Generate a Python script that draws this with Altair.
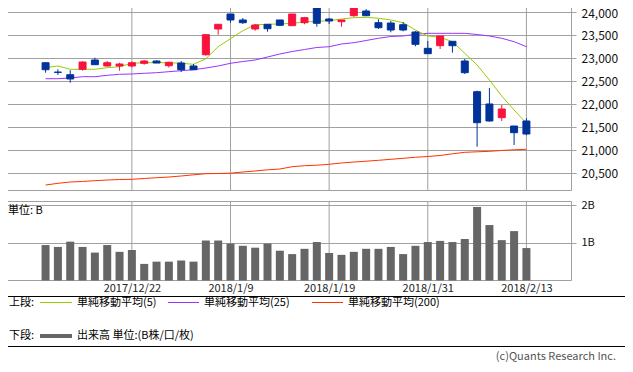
import altair as alt
import pandas as pd

FONT = "Noto Sans CJK JP"

dates = ["2017/12/13", "2017/12/14", "2017/12/15", "2017/12/18", "2017/12/19",
         "2017/12/20", "2017/12/21", "2017/12/22", "2017/12/25", "2017/12/26",
         "2017/12/27", "2017/12/28", "2017/12/29", "2018/1/4", "2018/1/5",
         "2018/1/9", "2018/1/10", "2018/1/11", "2018/1/12", "2018/1/15",
         "2018/1/16", "2018/1/17", "2018/1/18", "2018/1/19", "2018/1/22",
         "2018/1/23", "2018/1/24", "2018/1/25", "2018/1/26", "2018/1/29",
         "2018/1/30", "2018/1/31", "2018/2/1", "2018/2/2", "2018/2/5",
         "2018/2/6", "2018/2/7", "2018/2/8", "2018/2/9", "2018/2/13"]

opens = [22904, 22700, 22643, 22761, 22963, 22833, 22833, 22833, 22891, 22941,
         22839, 22898, 22833, 23078, 23637, 23963, 23833, 23637, 23739, 23833,
         23709, 23774, 24100, 23854, 23796, 23926, 24028, 23774, 23767, 23730,
         23572, 23217, 23274, 23369, 22941, 22274, 22007, 21709, 21528, 21637]
highs = [22904, 22761, 22740, 22935, 23013, 22941, 22904, 22930, 22963, 22957,
         22925, 22941, 22876, 23513, 23739, 23963, 23876, 23746, 23739, 23833,
         23963, 23900, 24100, 23876, 23833, 24137, 24070, 23848, 23811, 23789,
         23590, 23376, 23485, 23369, 22985, 22296, 22354, 21985, 21528, 21696]
lows = [22687, 22637, 22470, 22730, 22855, 22817, 22730, 22800, 22861, 22895,
        22800, 22702, 22745, 23056, 23513, 23774, 23746, 23600, 23578, 23700,
        23700, 23740, 23687, 23746, 23687, 23904, 23920, 23637, 23565, 23587,
        23261, 23100, 23202, 23122, 22659, 21078, 21622, 21637, 21115, 21326]
closes = [22752, 22694, 22550, 22919, 22861, 22904, 22876, 22904, 22941, 22898,
          22913, 22752, 22752, 23513, 23739, 23833, 23774, 23724, 23643, 23717,
          23963, 23883, 23761, 23811, 23833, 24137, 23926, 23665, 23615, 23615,
          23304, 23100, 23485, 23274, 22687, 21600, 21637, 21898, 21383, 21354]

ma5 = [22796, 22833, 22761, 22761, 22761, 22796, 22817, 22891, 22904, 22904,
       22904, 22891, 22870, 22990, 23252, 23426, 23600, 23730, 23739, 23746,
       23761, 23789, 23804, 23817, 23854, 23883, 23891, 23870, 23833, 23774,
       23615, 23485, 23457, 23361, 23109, 22854, 22528, 22180, 21876, 21587]
ma25 = [22556, 22556, 22572, 22600, 22600, 22630, 22652, 22659, 22674, 22687,
        22709, 22730, 22752, 22789, 22833, 22891, 22930, 22963, 23028, 23093,
        23148, 23191, 23235, 23252, 23311, 23339, 23387, 23435, 23474, 23485,
        23522, 23543, 23543, 23543, 23543, 23517, 23485, 23435, 23361, 23252]
ma200 = [20245, 20282, 20311, 20322, 20339, 20354, 20365, 20369, 20387, 20404,
         20419, 20441, 20467, 20491, 20496, 20502, 20528, 20550, 20576, 20593,
         20643, 20665, 20676, 20696, 20724, 20745, 20763, 20782, 20804, 20826,
         20848, 20865, 20887, 20924, 20956, 20967, 20978, 20996, 21011, 21022]

volume_b = [0.94, 0.89, 1.03, 0.89, 0.74, 0.94, 0.76, 0.81, 0.44, 0.50,
            0.50, 0.53, 0.50, 1.06, 1.06, 0.98, 0.92, 0.87, 0.98, 0.79,
            0.70, 0.84, 1.02, 0.73, 0.68, 0.76, 0.84, 0.84, 0.89, 0.70,
            0.92, 1.02, 1.05, 1.02, 1.10, 1.95, 1.47, 1.07, 1.31, 0.86]

label_idx = [7, 15, 23, 31, 39]
price_ticks = [20500, 21000, 21500, 22000, 22500, 23000, 23500, 24000]
vol_ticks = [1, 2]

legend_top = ["単純移動平均(5)", "単純移動平均(25)", "単純移動平均(200)"]
legend_bottom = "出来高 単位:(B株/口/枚)"

RED = "#F8123C"
BLUE = "#003399"
GRID = "#A0A0A0"

df = pd.DataFrame({
    "i": list(range(len(dates))), "date": dates,
    "open": opens, "high": highs, "low": lows, "close": closes,
    "ma5": ma5, "ma25": ma25, "ma200": ma200, "vol": volume_b,
})
df["dir"] = ["up" if c >= o else "down" for o, c in zip(opens, closes)]

x_scale = alt.Scale(domain=[-3.29, 42.21], nice=False, zero=False)
date_array = "[" + ",".join("'" + d + "'" for d in dates) + "]"
x_axis = alt.Axis(values=label_idx, labelExpr=date_array + "[datum.value]",
                  grid=False, ticks=False, domain=False, title=None,
                  labelFont=FONT, labelFontSize=11, labelColor="#222",
                  labelPadding=2)


def xenc():
    return alt.X("i:Q", scale=x_scale, axis=x_axis)


price_scale = alt.Scale(domain=[20136.8, 24267.4], range=[190, 0], nice=False, zero=False)
price_axis = alt.Axis(orient="right", values=price_ticks,
                      labelExpr="format(datum.value, ',')", grid=True,
                      gridColor=GRID, tickColor=GRID, tickSize=5, domain=False,
                      title=None, labelFont=FONT, labelFontSize=12, labelColor="#111",
                      labelPadding=5,
                      labelOffset={"condition": {"test": "datum.value >= 24000", "value": 1.5},
                                   "value": 0})

vol_scale = alt.Scale(domain=[0, 2.1], range=[280.5, 201.3], nice=False, zero=False)
vol_axis = alt.Axis(orient="right", values=vol_ticks, labelExpr="datum.value + 'B'",
                    grid=True, gridColor=GRID, tickColor=GRID, tickSize=5, domain=False,
                    title=None, labelFont=FONT, labelFontSize=11, labelColor="#111",
                    labelPadding=5)


def yp(field):
    return alt.Y(field + ":Q", scale=price_scale, axis=price_axis)


base = alt.Chart(df)
color = alt.Color("dir:N", scale=alt.Scale(domain=["up", "down"], range=[RED, BLUE]), legend=None)

ma200_line = base.mark_line(color="#FF3300", strokeWidth=1).encode(x=xenc(), y=yp("ma200"))
ma25_line = base.mark_line(color="#9933FF", strokeWidth=1).encode(x=xenc(), y=yp("ma25"))
ma5_line = base.mark_line(color="#99CC00", strokeWidth=1).encode(x=xenc(), y=yp("ma5"))
wicks = base.mark_rule(strokeWidth=1).encode(x=xenc(), y=yp("low"), y2="high:Q", color=color)
bodies = base.mark_bar(size=7, strokeWidth=1).encode(
    x=xenc(), y=yp("open"), y2="close:Q", color=color, stroke=color)

price_layer = alt.layer(ma200_line, ma25_line, ma5_line, wicks, bodies)

vol_layer = base.mark_bar(size=8, color="#666666").encode(
    x=xenc(), y=alt.Y("vol:Q", scale=vol_scale, axis=vol_axis))

one = pd.DataFrame({"a": [0]})
grid_df = pd.DataFrame({"i": label_idx})

vgrid_top = alt.Chart(grid_df).mark_rule(color=GRID).encode(x=xenc(), y=alt.value(0), y2=alt.value(190))
vgrid_vol = alt.Chart(grid_df).mark_rule(color=GRID).encode(x=xenc(), y=alt.value(201), y2=alt.value(280))


def frame(x1, x2, y1, y2, c):
    return alt.Chart(one).mark_rect(fillOpacity=0, stroke=c, strokeWidth=1).encode(
        x=alt.value(x1), x2=alt.value(x2), y=alt.value(y1), y2=alt.value(y2))


def txt(s, x, y, align="left", c="#000", size=11):
    return alt.Chart(pd.DataFrame({"t": [s]})).mark_text(
        align=align, baseline="middle", font=FONT, fontSize=size, color=c).encode(
        text="t:N", x=alt.value(x), y=alt.value(y))


def hline(x1, x2, y, c, w):
    return alt.Chart(one).mark_rule(color=c, strokeWidth=w).encode(
        x=alt.value(x1), x2=alt.value(x2), y=alt.value(y))


frame_top = frame(0.5, 571.5, 0.5, 190.5, GRID)
frame_vol = frame(0.5, 571.5, 201.5, 280.5, GRID)

legend_parts = [
    frame(0.5, 632.5, 296.5, 346.5, "#000"),
    txt("上段:", 9, 303),
    hline(40, 72, 302.5, "#99CC00", 1),
    txt(legend_top[0], 77, 303),
    hline(168, 199, 302.5, "#9933FF", 1),
    txt(legend_top[1], 204, 303),
    hline(312, 343, 302.5, "#FF3300", 1),
    txt(legend_top[2], 348, 303),
    txt("下段:", 9, 336),
    hline(40, 72, 336, "#666666", 4),
    txt(legend_bottom, 77, 336),
    txt("単位: B", 8, 211),
    txt("(c)Quants Research Inc.", 616, 357, align="right", c="#555"),
]

chart = alt.layer(
    vgrid_top, vgrid_vol, frame_top, frame_vol, price_layer, vol_layer, *legend_parts
).resolve_scale(y="independent").properties(
    width=571, height=280,
    padding={"left": -8, "top": -8, "right": 54, "bottom": 82},
    autosize=alt.AutoSizeParams(type="none"),
    background="white",
).configure_view(stroke=None)

chart.save("out.html", embed_options={"renderer": "svg", "actions": False})
